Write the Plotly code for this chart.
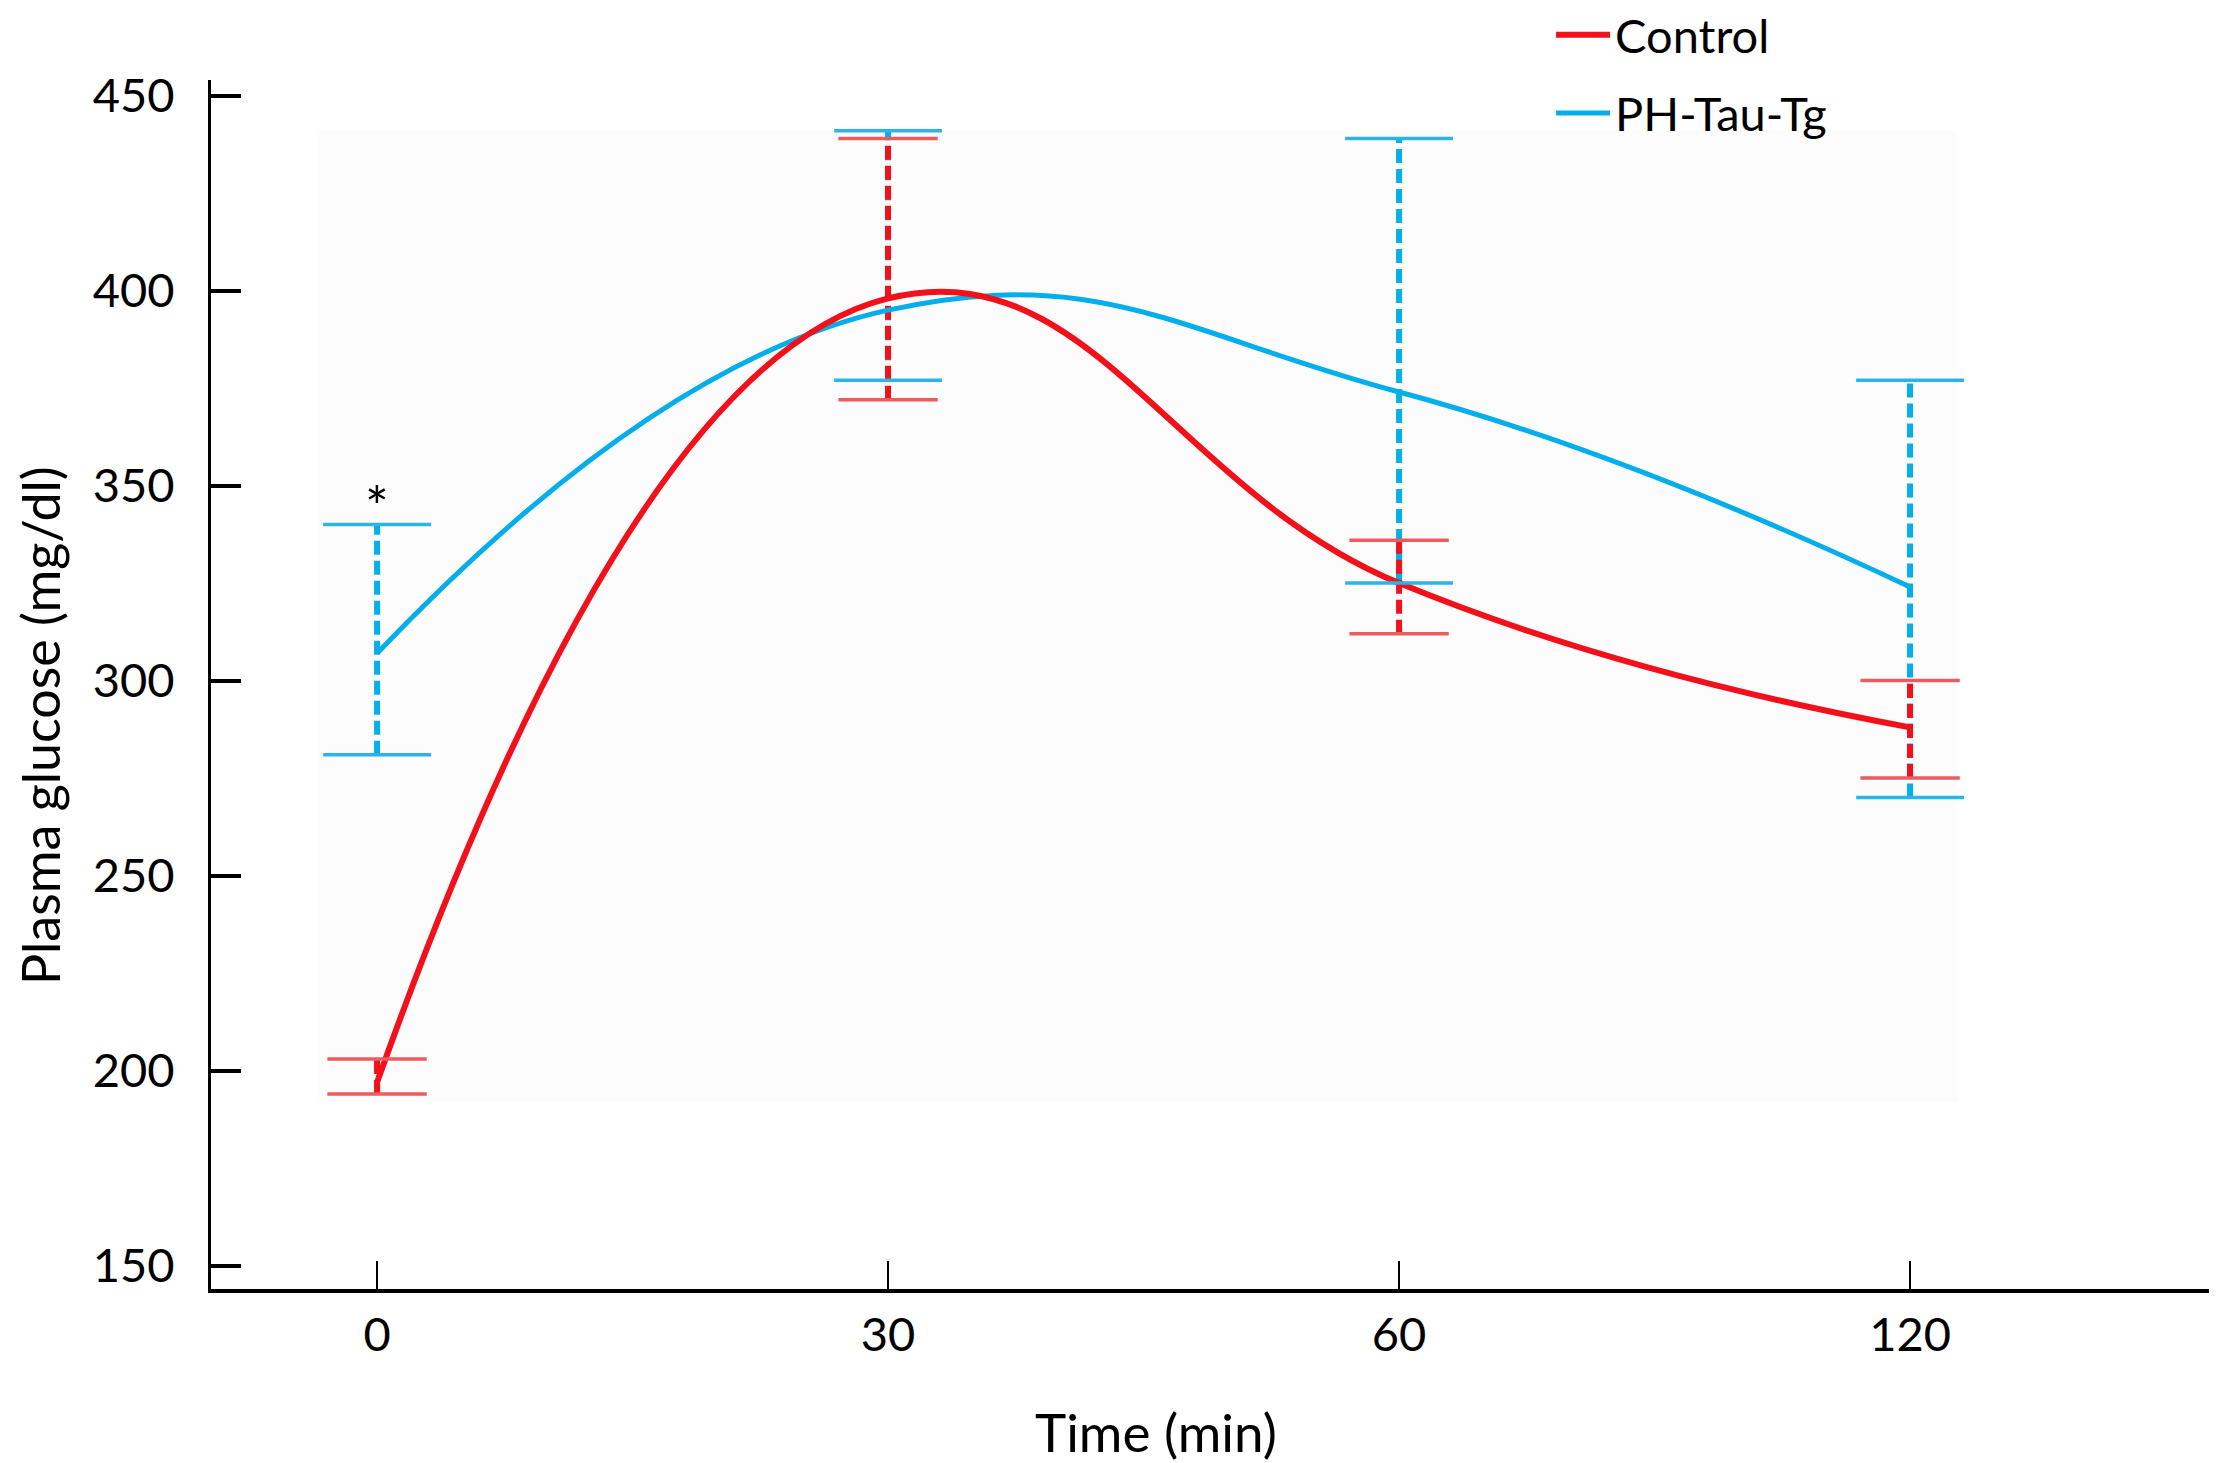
import plotly.graph_objects as go

# values (plasma glucose, mg/dl)
time_labels = ["0", "30", "60", "120"]

control_mean = [197, 398, 325, 288]
control_upper = [203, 439, 336, 300]
control_lower = [194, 372, 312, 275]

tg_mean = [307, 395, 374, 324]
tg_upper = [340, 441, 439, 377]
tg_lower = [281, 377, 325, 270]

RED = "#F2111A"
BLUE = "#04AEEB"
RED_CAP = "#EE5B5E"
BLUE_CAP = "#2BB4EA"
FONT = "Lato"


def stems(lower, upper):
    # vertical error lines, one segment per time point
    xs, ys = [], []
    for lab, lo, hi in zip(time_labels, lower, upper):
        xs += [lab, lab, None]
        ys += [lo, hi, None]
    return xs, ys


fig = go.Figure()

# faint grey panel behind the curves
fig.add_shape(type="rect", xref="x", yref="y", x0=-0.115, x1=3.094, y0=192, y1=441,
              fillcolor="#FCFCFC", line_width=0, layer="below")

for lower, upper, col in [(tg_lower, tg_upper, BLUE), (control_lower, control_upper, RED)]:
    sx, sy = stems(lower, upper)
    fig.add_trace(go.Scatter(x=sx, y=sy, mode="lines", showlegend=False, hoverinfo="skip",
                             line=dict(color=col, width=6, dash="14px,6px")))

fig.add_trace(go.Scatter(x=time_labels, y=tg_mean, mode="lines", name="PH-Tau-Tg",
                         legendgroup="tg", legendrank=2,
                         line=dict(color=BLUE, width=5, shape="spline", smoothing=1.3)))
fig.add_trace(go.Scatter(x=time_labels, y=control_mean, mode="lines", name="Control",
                         legendgroup="ctrl", legendrank=1,
                         line=dict(color=RED, width=6, shape="spline", smoothing=1.3)))

# caps of the error bars
for lower, upper, col, size in [(tg_lower, tg_upper, BLUE_CAP, 77), (control_lower, control_upper, RED_CAP, 71)]:
    fig.add_trace(go.Scatter(x=time_labels * 2, y=lower + upper, mode="markers", showlegend=False,
                             hoverinfo="skip",
                             marker=dict(symbol="line-ew", size=size,
                                         line=dict(color=col, width=3.5))))

fig.add_annotation(x="0", y=345, text="*", showarrow=False,
                   font=dict(family=FONT, size=56, color="black"))

fig.add_annotation(xref="paper", yref="paper", x=0.473, y=-0.1175, text="Time (min)",
                   showarrow=False, yanchor="middle",
                   font=dict(family=FONT, size=53, color="black"))
fig.add_annotation(xref="paper", yref="paper", x=-0.0856, y=0.4665, text="Plasma glucose (mg/dl)",
                   showarrow=False, textangle=-90, xanchor="center", yanchor="middle",
                   font=dict(family=FONT, size=52, color="black"))

# the page body keeps an 8px margin, so the figure is 8px smaller than the window
fig.update_layout(
    width=2209, height=1455,
    margin=dict(l=203, r=8, t=72, b=174, autoexpand=False),
    paper_bgcolor="white", plot_bgcolor="white",
    font=dict(family=FONT, size=47, color="black"),
    legend=dict(x=0.6707, y=1.068, xanchor="left", yanchor="top",
                traceorder="grouped", itemwidth=54, tracegroupgap=14,
                font=dict(family=FONT, size=47, color="black"),
                bgcolor="rgba(0,0,0,0)"),
)
fig.update_xaxes(type="category", range=[-0.325, 3.585], showline=True, linewidth=4, linecolor="black",
                 ticks="inside", ticklen=28, tickwidth=2, tickcolor="black",
                 showgrid=False, zeroline=False, ticklabelstandoff=2)
fig.update_yaxes(range=[144, 454], tickvals=[150, 200, 250, 300, 350, 400, 450],
                 showline=True, linewidth=3, linecolor="black",
                 ticks="inside", ticklen=30, tickwidth=4, tickcolor="black",
                 showgrid=False, zeroline=False, ticklabelstandoff=24)

fig.write_html("out.html")
